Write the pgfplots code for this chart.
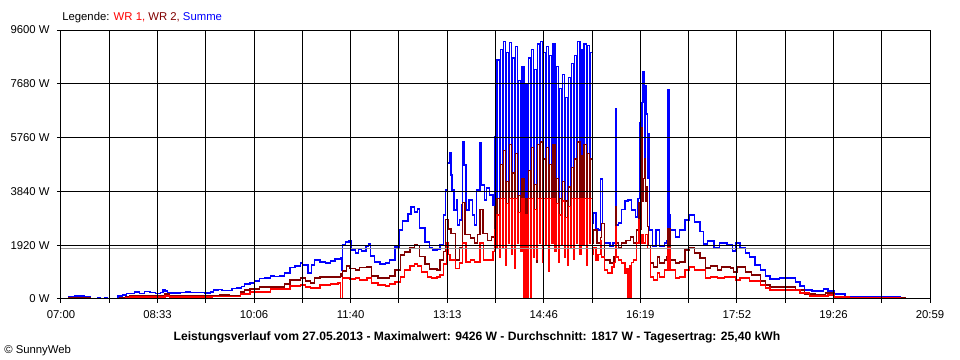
\documentclass[border=0pt]{standalone}
\usepackage{pgfplots}
\pgfplotsset{compat=1.18}
\usepackage{fontspec}
\setmainfont{Liberation Sans}
\definecolor{wrone}{RGB}{255,0,0}
\definecolor{wrtwo}{RGB}{128,0,0}
\definecolor{summe}{RGB}{0,0,255}
\definecolor{avg}{RGB}{150,150,150}
\newcommand{\tf}{\fontsize{8.5}{10}\selectfont}
\begin{document}
\begin{tikzpicture}
\path[use as bounding box] (0,0) rectangle (720pt,270pt);
\begin{axis}[
  at={(45.75pt,45.75pt)}, anchor=south west,
  scale only axis, width=651.75pt, height=201.75pt,
  xmin=0, xmax=839, ymin=0, ymax=9600,
  axis on top,
  grid=major, major grid style={black, line width=0.75pt},
  axis line style={black, line width=0.75pt},
  tick style={black, line width=0.75pt},
  tick align=outside, major tick length=3pt,
  xtick pos=bottom, ytick pos=left,
  xtick={0,46.61,93.22,139.83,186.44,233.06,279.67,326.28,372.89,419.5,466.11,512.72,559.33,605.94,652.56,699.17,745.78,792.39,839},
  xticklabels={07:00,{},08:33,{},10:06,{},11:40,{},13:13,{},14:46,{},16:19,{},17:52,{},19:26,{},20:59},
  ytick={0,1920,3840,5760,7680,9600},
  yticklabels={0 W,1920 W,3840 W,5760 W,7680 W,9600 W},
  tick label style={font=\tf},
  xticklabel style={yshift=-2.5pt},
  yticklabel style={xshift=-2pt},
  /pgf/number format/assume math mode=true,
  every axis plot/.append style={line width=0.9pt, const plot, mark=none},
]
\addplot[summe] coordinates {
(0,0) (5,0) (7,70) (13.5,110) (23,90) (28,0) (35,35) (38,0) (42,35) (45,0) (50,20) (55,110) (59,140) (63,210) (67,210) (71,250) (76,210) (81,270) (86,230) (91,210) (96,230) (98.5,320) (100.5,285) (103,215) (110,215) (115,230) (120,250) (124.5,230) (134,230) (139,215) (144,250) (147,320) (151.5,340) (155.5,300) (161,300) (165,375) (170,390) (174,460) (177.5,535) (182.5,570) (187,640) (192,730) (197,750) (202,820) (206.5,800) (211.5,820) (216,930) (221,1110) (226,1180) (231,1285) (233.5,1210) (238.5,930) (242,1210) (245,1390) (250,1320) (255,1285) (260,1355) (264.5,1430) (269.5,1465) (271,1035) (272,1925) (275,2035) (278,2070) (280,1750) (284,1640) (287,1785) (290.5,1710) (294.5,1890) (296.5,1960) (299,1535) (303,1320) (308,1250) (313,1285) (317.5,1390) (322.5,1855) (326.5,2460) (330,2785) (335,3035) (338,3280) (341,3105) (344,3210) (346.5,2535) (351.5,2035) (356,1820) (359,1750) (363,1785) (366,1925) (369,3000) (371,3890) (373,4855) (375,5210) (376.5,4425) (377.5,3890) (379.5,3175) (381.5,3535) (383,2640) (385,2820) (387,3355) (388,5600) (389,4780) (391,3175) (394,3535) (397,3000) (399,2640) (401.5,3890) (404.5,5570) (405.5,4070) (408.5,3535) (411,3960) (414,3710) (417,3355) (419,5780) (420,3535)
(421,8530) (423,2600) (424,8900) (426,3100) (427,9200) (429,2300) (430,8800) (432,3400) (433,9150) (435,2600) (436,8600) (438,2000) (439,9000) (441,3300) (442,7800) (444,2700) (445,8300) (447,2400) (448,7700) (450,3500) (451,8600) (453,2600) (454,8900) (456,3000) (457,8200) (459,2000) (460,9100) (462,2700) (463,9200) (465,2200) (466,8800) (468,3100) (469,9000) (471,1800) (472,8700) (474,3300) (475,9100) (477,2800) (478,8300) (480,2300) (481,7500) (483,3100) (484,8000) (486,2600) (487,7200) (489,2000) (490,7900) (492,2900) (493,8400) (495,2400) (496,8700) (498,3200) (499,9200) (501,2500) (502,8900) (504,3000) (505,9100) (507,2200) (508,9050) (510,3400) (511,8800) (513,2700)
(513.6,3070) (516.5,2500) (518.5,2460) (521,4280) (523,2700) (525,2000) (530,1860) (533,2000) (535,6780) (536,2640) (538,2710) (541.5,3180) (544.5,3500) (547.5,3535) (551,3175) (555,2930) (557,3600) (559,6280) (560,4500) (561,7000) (562,8100) (563,5000) (564,7600) (565,6600) (566,4300) (567,5900) (568,2460) (571,1860) (574.5,2460) (578,1860) (583,2000) (585,2100) (586,7460) (587,3000) (588,2460) (593,2210) (597.5,2460) (602.5,2820) (607,3000) (612,2750) (617,2400) (620,1960) (624.5,2070) (630.5,1850) (636,2000) (643,1925) (648,1710) (651.5,2000) (655.5,1820) (660.5,1640) (665,1500) (670,1215) (675,1035) (680,820) (684.5,715) (689.5,715) (694,750) (699,750) (704,750) (709,610) (713.5,465) (718,320) (725,285) (733,285) (736.5,360) (740.5,285) (747,180) (757,70) (771.5,70) (781,80) (800,80) (810,60) (815,0)
};
\addplot[wrtwo] coordinates {
(0,0) (7,40) (20,40) (28,0) (55,0) (57,35) (62,70) (66.6,110) (76,110) (86,125) (95.6,110) (100.5,180) (105,110) (120,125) (134,110) (146,125) (153.5,145) (163,125) (173,250) (177.5,320) (182.5,360) (192,430) (206.5,430) (216,535) (221,680) (231,750) (236,640) (240.5,570) (245,750) (250,785) (264.5,785) (269.5,900) (271,800) (272,1000) (276,1180) (279,1100) (284,1035) (288.5,1110) (295.5,1140) (300,820) (306,750) (313,750) (317.5,820) (322.5,1035) (327.5,1570) (332,1680) (337,1850) (341,1930) (344,1900) (346.5,1530) (351.5,1250) (356,1070) (363,1035) (366,1390) (369,1700) (371,2850) (374,2500) (376.5,2350) (380.5,1390) (385,1850) (388,3440) (390,2300) (395,2180) (399.5,2000) (402.5,2300) (404.5,3180) (407.5,2350) (412,2100) (416,2210) (419,3280) (420,2500)
(421,3600) (423,1800) (424,4800) (426,2200) (427,5300) (429,1500) (430,4200) (432,2500) (433,5500) (435,1900) (436,4500) (438,1400) (439,5200) (441,2400) (442,3700) (444,2000) (445,4300) (447,1700) (448,3600) (450,2600) (451,4600) (453,1900) (454,5400) (456,2200) (457,4100) (459,1300) (460,5500) (462,2000) (463,5600) (465,1600) (466,5000) (468,2300) (469,5400) (471,1300) (472,4800) (474,2500) (475,5500) (477,2100) (478,4300) (480,1700) (481,3600) (483,2300) (484,4200) (486,1900) (487,3500) (489,1500) (490,4000) (492,2200) (493,4700) (495,1800) (496,5000) (498,2400) (499,5600) (501,1900) (502,5100) (504,2300) (505,5500) (507,1600) (508,5200) (510,2600) (511,5000) (513,2000)
(513.6,2460) (517.5,2000) (520.5,2200) (522,2700) (525,1390) (530,1285) (534,1500) (535,3280) (536,2000) (538,1850) (541.5,2000) (545.5,2100) (549.5,2210) (553,2000) (556,2460) (558,3430) (559,2500) (560,6100) (561,3500) (562,4300) (563,5000) (564,3500) (565,4000) (566,2600) (567,1900) (569,1285) (572,1140) (576,1500) (578,1285) (583,1390) (585,1500) (586,2500) (588,1390) (593,1285) (597.5,1320) (602.5,1750) (607,1820) (612,1640) (617,1460) (622,1105) (627,1180) (634,1035) (638,1140) (646,1105) (649,965) (653.5,1140) (660.5,965) (667,855) (675,640) (680,500) (684.5,430) (694,430) (704,430) (709,320) (718,180) (728,145) (738,215) (747,70) (761.5,50) (790.5,50) (810,35) (815,0)
};
\addplot[wrone] coordinates {
(0,0) (7,30) (25,30) (28,0) (60,0) (62,35) (66.6,70) (76,70) (95.6,70) (100.5,110) (105,70) (134,70) (146,90) (163,90) (173,180) (182.5,250) (192,250) (202,360) (211.5,360) (221,465) (231,500) (236,430) (240.5,390) (250,500) (260,535) (267.5,570) (270,0) (271.5,750) (279,715) (284,750) (288.5,680) (295.5,750) (300,570) (306,500) (313,465) (317.5,535) (322.5,610) (327.5,785) (332,1035) (337,1180) (341,1250) (344,1180) (348,960) (354,785) (358,750) (363,785) (366,860) (369,1250) (372,2000) (374,1600) (375.5,1390) (380.5,1100) (385,1285) (388,2000) (391,1320) (395,1390) (399.5,1320) (404.5,2000) (408,1390) (414,1390) (417,1700) (419,2460) (420,1800)
(421,3000) (423,1500) (424,3600) (426,1800) (427,3600) (429,1200) (430,3400) (432,2000) (433,3600) (435,1600) (436,3600) (438,1100) (439,3600) (441,2000) (442,3100) (444,1700) (445,3600) (447,0) (448,3000) (450,0) (451,3600) (453,0) (454,3600) (456,1500) (457,3200) (459,1400) (460,3600) (462,2000) (463,3600) (465,1300) (466,3600) (468,1900) (469,3600) (471,1000) (472,3600) (474,2000) (475,3600) (477,1700) (478,3400) (480,1300) (481,3000) (483,1900) (484,3500) (486,1500) (487,2900) (489,1200) (490,3300) (492,1800) (493,3600) (495,1400) (496,3600) (498,2000) (499,3600) (501,1600) (502,3600) (504,1900) (505,3600) (507,1200) (508,3600) (510,2000) (511,3600) (513,1600)
(513.6,1850) (516.5,1390) (518.5,1600) (520.5,2100) (522,1500) (525,1035) (528,930) (532,1140) (534,1300) (535,2570) (536,1500) (538,1390) (541.5,1285) (544.5,930) (546.5,1100) (547.5,0) (548.5,1200) (549.5,0) (550.5,1300) (553,1390) (556,2000) (558,2820) (559,2000) (560,2300) (562,2000) (564,2300) (566,1800) (569,785) (572,680) (576,930) (578,785) (583,1035) (586,1850) (588,1035) (593,750) (597.5,785) (602.5,1035) (607,1140) (612,1035) (617,1035) (622,750) (627,785) (634,750) (640.5,785) (651,680) (655.5,750) (665,640) (675,500) (680,390) (684.5,320) (694,320) (704,320) (713.5,215) (723,110) (733,110) (740.5,145) (747,70) (761.5,50) (790.5,35) (810,30) (815,0)
};
\addplot[avg, const plot=false, line width=0.75pt] coordinates {(0,1817) (839,1817)};
\end{axis}
\node[anchor=west, font=\tf, inner sep=0pt] at (46.5pt,257pt) {Legende: \textcolor{wrone}{WR 1,} \textcolor{wrtwo}{WR 2,} \textcolor{summe}{Summe}};
\node[font=\bfseries\fontsize{9.1}{11}\selectfont, inner sep=0pt] at (357.75pt,17pt) {Leistungsverlauf vom 27.05.2013 - Maximalwert: 9426 W - Durchschnitt: 1817 W - Tagesertrag: 25,40 kWh};
\node[anchor=west, font=\tf, inner sep=0pt] at (3pt,7pt) {© SunnyWeb};
\end{tikzpicture}
\end{document}
